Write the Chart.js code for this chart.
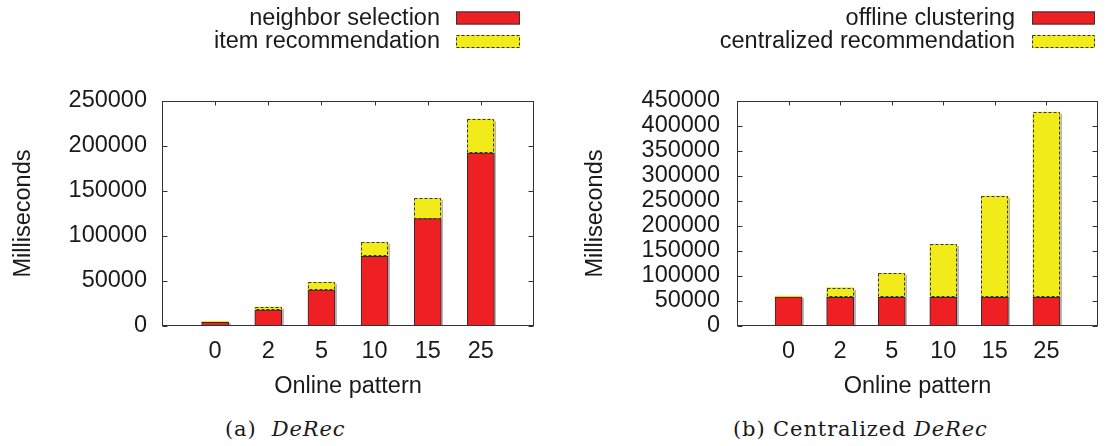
<!DOCTYPE html>
<html><head><meta charset="utf-8">
<script src="https://cdn.jsdelivr.net/npm/chart.js@4"></script>
<style>
html,body{margin:0;padding:0;background:#fff;}
body{width:1109px;height:446px;position:relative;overflow:hidden;}
.wrap{position:absolute;top:0;}
.cap{position:absolute;font-family:"DejaVu Serif",serif;font-size:21px;letter-spacing:0.9px;color:#1a1a1a;white-space:pre;line-height:24px;}
</style></head><body>
<div class="wrap" style="left:0;"><canvas id="c1" width="560" height="401"></canvas></div>
<div class="wrap" style="left:560px;"><canvas id="c2" width="549" height="401"></canvas></div>
<div class="cap" style="left:225px;top:417px">(a)  <i>DeRec</i></div>
<div class="cap" style="left:733px;top:417px">(b) Centralized <i>DeRec</i></div>
<script>
// ---- data ----
const categories = ['0', '2', '5', '10', '15', '25'];
const neighborSelection = [4000, 17800, 40000, 77400, 119300, 192200];
const itemRecommendation = [1200, 3300, 8500, 15600, 22500, 37800];
const offlineClustering = [58000, 57500, 57500, 57500, 57500, 57500];
const centralizedRecommendation = [2000, 19200, 47800, 105800, 202500, 370500];
const yMaxA = 250000;
const yMaxB = 450000;
const yStep = 50000;
const xTitle = 'Online pattern';
const yTitle = 'Milliseconds';
const legendA = ['neighbor selection', 'item recommendation'];
const legendB = ['offline clustering', 'centralized recommendation'];

const RED = 'rgb(238,32,36)';
const YELLOW = 'rgb(242,235,26)';
const EDGE = '#2a2a2a';
const FONT = '"Liberation Sans", Arial, sans-serif';
const FS = 23.5;

const padLabels = ['', ...categories, ''];
const pad = arr => [null, ...arr, null];

const framePlugin = {
  id: 'frame',
  beforeDatasetsDraw(chart) {
    const ctx = chart.ctx;
    const m0 = chart.getDatasetMeta(0), m1 = chart.getDatasetMeta(1);
    ctx.save();
    ctx.fillStyle = 'rgba(0,0,0,0.28)';
    m1.data.forEach((el, i) => {
      const b = m0.data[i];
      if (!b || chart.data.datasets[0].data[i] == null) return;
      const p = el.getProps(['x', 'y', 'width'], true);
      const base = b.getProps(['base'], true).base;
      const xr = Math.round(p.x + p.width / 2);
      ctx.fillRect(xr, Math.round(p.y) + 2, 2, base - p.y - 2);
    });
    ctx.restore();
  },
  afterDatasetsDraw(chart) {
    const {ctx, chartArea: a, scales: {x, y}} = chart;
    const m1 = chart.getDatasetMeta(1);
    ctx.save();
    ctx.strokeStyle = '#333';
    ctx.lineWidth = 1;
    ctx.setLineDash([3, 2]);
    m1.data.forEach((el, i) => {
      if (chart.data.datasets[1].data[i] == null) return;
      const p = el.getProps(['x', 'y', 'base', 'width'], true);
      const l = Math.round(p.x - p.width / 2) + 0.5;
      const r = Math.round(p.x + p.width / 2) - 0.5;
      const t = Math.round(p.y) + 0.5;
      const bt = Math.round(p.base) - 0.5;
      if (bt - t < 1) return;
      ctx.strokeRect(l, t, r - l, bt - t);
    });
    ctx.restore();
    ctx.save();
    ctx.strokeStyle = '#333';
    ctx.lineWidth = 1;
    const L = Math.round(a.left) + 0.5, R = Math.round(a.right) - 0.5;
    const T = Math.round(a.top) + 0.5, B = Math.round(a.bottom) - 0.5;
    ctx.strokeRect(L, T, R - L, B - T);
    ctx.beginPath();
    y.ticks.forEach(t => {
      const py = Math.round(y.getPixelForValue(t.value)) + 0.5;
      ctx.moveTo(L, py); ctx.lineTo(L + 5, py);
      ctx.moveTo(R, py); ctx.lineTo(R - 5, py);
    });
    chart.data.labels.forEach((lab, i) => {
      if (!lab) return;
      const px = Math.round(x.getPixelForValue(i)) + 0.5;
      ctx.moveTo(px, T); ctx.lineTo(px, T + 4);
    });
    ctx.stroke();
    ctx.restore();
  },
  afterDraw(chart) {
    const o = chart.options.plugins.boxLegend;
    const ctx = chart.ctx;
    ctx.save();
    ctx.font = FS + 'px ' + FONT;
    ctx.textAlign = 'right';
    ctx.textBaseline = 'middle';
    chart.data.datasets.forEach((ds, i) => {
      const cy = o.rows[i];
      ctx.fillStyle = '#1a1a1a';
      ctx.fillText(ds.label, o.textRight, cy + 1);
      ctx.fillStyle = ds.backgroundColor;
      ctx.fillRect(o.boxLeft, cy - 6, o.boxW, 13);
      ctx.strokeStyle = '#333';
      ctx.lineWidth = 1;
      ctx.setLineDash(i === 1 ? [3, 2] : []);
      ctx.strokeRect(o.boxLeft + 0.5, cy - 6 + 0.5, o.boxW - 1, 12);
    });
    ctx.restore();
  }
};

function makeChart(id, labels, bottomVals, topVals, yMax, cfg) {
  return new Chart(document.getElementById(id), {
    type: 'bar',
    data: {
      labels: padLabels,
      datasets: [
        {label: labels[0], data: pad(bottomVals), backgroundColor: RED, borderColor: EDGE,
         borderWidth: 1, borderSkipped: false, barThickness: 27},
        {label: labels[1], data: pad(topVals), backgroundColor: YELLOW, borderWidth: 0,
         barThickness: 27}
      ]
    },
    options: {
      responsive: false,
      animation: false,
      events: [],
      layout: {padding: {top: 101, left: 0, right: cfg.padRight, bottom: 0}},
      plugins: {legend: {display: false}, tooltip: {enabled: false},
        boxLegend: cfg.legend},
      scales: {
        x: {
          stacked: true, offset: false,
          grid: {display: false, drawTicks: false}, border: {display: false},
          ticks: {autoSkip: false, maxRotation: 0, padding: 11, color: '#1a1a1a',
                  font: {family: FONT, size: FS}},
          title: {display: true, text: xTitle, color: '#1a1a1a', padding: {top: 0, bottom: 0},
                  font: {family: FONT, size: FS}},
          afterFit: s => { s.height = 75; }
        },
        y: {
          stacked: true, min: 0, max: yMax,
          grid: {display: false, drawTicks: false}, border: {display: false},
          ticks: {stepSize: yStep, autoSkip: false, padding: cfg.tickPad, color: '#1a1a1a',
                  font: {family: FONT, size: FS}, callback: v => String(v)},
          title: {display: true, text: yTitle, color: '#1a1a1a', padding: {top: cfg.titlePad, bottom: 0},
                  font: {family: FONT, size: FS}},
          afterFit: s => { s.width = cfg.yWidth; }
        }
      }
    },
    plugins: [framePlugin]
  });
}

makeChart('c1', legendA, neighborSelection, itemRecommendation, yMaxA,
  {padRight: 26, tickPad: 15, titlePad: 9, yWidth: 162,
   legend: {textRight: 440, boxLeft: 456, boxW: 64, rows: [17.5, 41]}});
makeChart('c2', legendB, offlineClustering, centralizedRecommendation, yMaxB,
  {padRight: 1, tickPad: 17, titlePad: 21, yWidth: 177,
   legend: {textRight: 455, boxLeft: 472, boxW: 63, rows: [17.5, 41]}});
</script>
</body></html>
